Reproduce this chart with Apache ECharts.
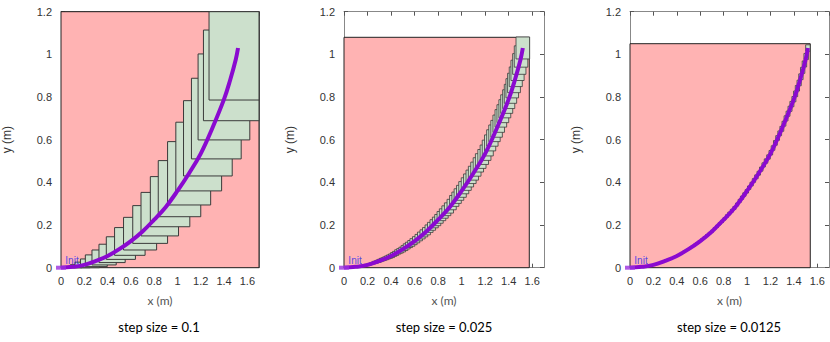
<!DOCTYPE html>
<html><head><meta charset="utf-8">
<script src="https://cdn.jsdelivr.net/npm/echarts@6/dist/echarts.min.js"></script>
<style>html,body{margin:0;padding:0;background:#fff}#c{width:830px;height:342px}</style>
</head><body><div id="c"></div>
<script>
// ---- data ----
const panelTitles = ['step size = 0.1', 'step size = 0.025', 'step size = 0.0125'];
const xName = 'x (m)', yName = 'y (m)';
const startLabel = 'Init';
const xMax = 1.7, yMax = 1.2, tickStep = 0.2;

// trajectory
const curveX = [0, 0.1, 0.2, 0.3, 0.4, 0.5, 0.6, 0.7, 0.8, 0.9, 1.0, 1.1, 1.2, 1.3, 1.4, 1.45, 1.5, 1.52];
const curveY = [0, 0.004, 0.013, 0.032, 0.055, 0.087, 0.125, 0.17, 0.225, 0.285, 0.36, 0.443, 0.535, 0.655, 0.79, 0.875, 0.975, 1.03];

// pink bounding box (upper-right corner) per panel
const hullX = [1.75, 1.575, 1.54];
const hullY = [1.3, 1.08, 1.05];

// panel 1 boxes (step 0.1): edges
const p1x0 = [0.04,0.08,0.12,0.167,0.209,0.266,0.326,0.389,0.46,0.537,0.616,0.687,0.767,0.835,0.915,0.986,1.052,1.12,1.177,1.223,1.271];
const p1x1 = [0.12,0.18,0.25,0.33,0.397,0.474,0.551,0.639,0.722,0.821,0.915,1.009,1.106,1.2,1.285,1.379,1.47,1.547,1.621,1.70,1.77];
const p1y0 = [-0.003,-0.004,-0.003,0.0,0.005,0.013,0.024,0.039,0.058,0.083,0.114,0.149,0.192,0.239,0.294,0.36,0.43,0.51,0.599,0.689,0.786];
const p1y1 = [0.006,0.014,0.026,0.041,0.060,0.083,0.110,0.145,0.188,0.236,0.291,0.353,0.427,0.502,0.591,0.682,0.783,0.888,1.002,1.114,1.27];

// box centres for the finer steps
const fineX = [0,0.02,0.04,0.06,0.08,0.093,0.105,0.118,0.13,0.144,0.158,0.171,0.185,0.201,0.218,0.234,0.25,0.263,0.276,0.29,0.303,
 0.32,0.336,0.353,0.37,0.387,0.404,0.422,0.439,0.458,0.476,0.495,0.514,0.533,0.552,0.572,0.591,0.613,0.635,0.657,0.679,
 0.701,0.723,0.744,0.766,0.787,0.807,0.828,0.848,0.870,0.892,0.915,0.937,0.957,0.977,0.998,1.018,1.039,1.059,1.080,1.100,
 1.121,1.142,1.162,1.183,1.203,1.222,1.242,1.261,1.279,1.297,1.315,1.333,1.35,1.367,1.383,1.40,1.415,1.43,1.445,1.46,
 1.475,1.49,1.505,1.52];
const fineY = [0,0.001,0.002,0.002,0.003,0.004,0.004,0.006,0.007,0.008,0.009,0.010,0.012,0.013,0.016,0.019,0.022,0.025,0.027,0.030,0.033,
 0.037,0.040,0.044,0.048,0.052,0.056,0.062,0.067,0.074,0.079,0.085,0.092,0.100,0.107,0.114,0.122,0.131,0.141,0.151,0.161,
 0.171,0.183,0.194,0.206,0.217,0.229,0.242,0.254,0.267,0.280,0.296,0.313,0.328,0.343,0.358,0.375,0.392,0.409,0.426,0.443,
 0.462,0.482,0.500,0.519,0.539,0.561,0.585,0.608,0.630,0.651,0.675,0.700,0.722,0.745,0.767,0.790,0.815,0.841,0.866,0.895,
 0.925,0.955,0.99,1.03];
// panel 2 box sizes (step 0.025)
const p2w = [0.015,0.016,0.017,0.018,0.019,0.020,0.021,0.022,0.023,0.025,0.027,0.028,0.030,0.032,0.034,0.035,0.037,0.039,0.040,0.042,0.044,
 0.045,0.046,0.047,0.048,0.049,0.050,0.051,0.052,0.054,0.055,0.057,0.058,0.059,0.060,0.060,0.061,0.062,0.063,0.065,0.066,
 0.067,0.068,0.069,0.070,0.071,0.072,0.074,0.075,0.076,0.077,0.078,0.079,0.080,0.082,0.083,0.085,0.085,0.085,0.086,0.086,
 0.087,0.088,0.090,0.091,0.092,0.094,0.095,0.097,0.097,0.098,0.098,0.099,0.100,0.101,0.102,0.103,0.105,0.107,0.109,0.111,
 0.112,0.113,0.115,0.116];
const p2h = [0.003,0.003,0.003,0.004,0.004,0.004,0.004,0.005,0.005,0.005,0.006,0.006,0.007,0.007,0.008,0.008,0.009,0.010,0.010,0.011,0.012,
 0.013,0.013,0.014,0.015,0.016,0.017,0.018,0.019,0.020,0.021,0.022,0.023,0.024,0.025,0.027,0.028,0.029,0.030,0.032,0.033,
 0.034,0.035,0.037,0.038,0.040,0.041,0.043,0.044,0.046,0.048,0.049,0.051,0.053,0.054,0.056,0.057,0.059,0.061,0.063,0.065,
 0.066,0.067,0.069,0.070,0.072,0.074,0.075,0.077,0.078,0.079,0.081,0.082,0.084,0.085,0.087,0.088,0.089,0.090,0.091,0.092,
 0.095,0.097,0.100,0.103];
// panel 3 box sizes (step 0.0125)
const p3w = [0.005,0.005,0.006,0.006,0.006,0.007,0.007,0.007,0.008,0.008,0.009,0.009,0.010,0.011,0.011,0.012,0.012,0.013,0.013,0.014,0.015,
 0.015,0.015,0.016,0.016,0.016,0.017,0.017,0.017,0.018,0.018,0.019,0.019,0.020,0.020,0.020,0.020,0.021,0.021,0.022,0.022,
 0.022,0.023,0.023,0.023,0.024,0.024,0.025,0.025,0.025,0.026,0.026,0.026,0.027,0.027,0.028,0.028,0.028,0.028,0.029,0.029,
 0.029,0.029,0.030,0.030,0.031,0.031,0.032,0.032,0.032,0.033,0.033,0.033,0.033,0.034,0.034,0.034,0.035,0.036,0.036,0.037,
 0.037,0.038,0.038,0.039];
const p3h = [0.001,0.001,0.001,0.001,0.001,0.001,0.001,0.001,0.001,0.002,0.002,0.002,0.002,0.002,0.002,0.002,0.003,0.003,0.003,0.003,0.003,
 0.004,0.004,0.004,0.004,0.005,0.005,0.005,0.005,0.006,0.006,0.006,0.007,0.007,0.007,0.008,0.008,0.008,0.009,0.009,0.009,
 0.010,0.010,0.011,0.011,0.011,0.012,0.012,0.013,0.013,0.014,0.014,0.015,0.015,0.016,0.016,0.016,0.017,0.017,0.018,0.018,
 0.019,0.019,0.020,0.020,0.021,0.021,0.022,0.022,0.022,0.023,0.023,0.024,0.024,0.024,0.025,0.025,0.026,0.026,0.026,0.027,
 0.028,0.028,0.029,0.030];

// ---- build ----
const boxes = [[], [], []];
for (let i = 0; i < p1x0.length; i++) boxes[0].push([p1x0[i], p1x1[i], p1y0[i], p1y1[i]]);
for (let i = 0; i < fineX.length; i++) {
  boxes[1].push([fineX[i] - p2w[i] / 2, fineX[i] + p2w[i] / 2, fineY[i] - p2h[i] / 2, fineY[i] + p2h[i] / 2]);
  boxes[2].push([fineX[i] - p3w[i] / 2, fineX[i] + p3w[i] / 2, fineY[i] - p3h[i] / 2, fineY[i] + p3h[i] / 2]);
}
const curve = curveX.map((x, i) => [x, curveY[i]]);

const grids = [
  { left: 59.5, top: 11.7, width: 199.5, height: 256 },
  { left: 344, top: 11.7, width: 200, height: 256 },
  { left: 630, top: 11.7, width: 199, height: 256 }
];
const centers = [159, 444, 729];
const tickFont = { fontFamily: 'Liberation Sans', fontSize: 11, color: '#333' };

function rectItem(fill, stroke, lw) {
  return function (params, api) {
    const p0 = api.coord([api.value(0), api.value(3)]);
    const p1 = api.coord([api.value(1), api.value(2)]);
    const shape = echarts.graphic.clipRectByRect(
      { x: p0[0], y: p0[1], width: p1[0] - p0[0], height: p1[1] - p0[1] },
      { x: params.coordSys.x, y: params.coordSys.y, width: params.coordSys.width, height: params.coordSys.height });
    if (!shape) return null;
    return { type: 'rect', shape: shape, style: { fill: fill, stroke: stroke, lineWidth: lw } };
  };
}

const xAxis = [], yAxis = [], series = [];
grids.forEach((g, k) => {
  const base = { gridIndex: k, type: 'value', min: 0, interval: tickStep, splitLine: { show: false },
    axisLine: { show: true, onZero: false, lineStyle: { color: '#888', width: 1 } },
    axisTick: { show: true, inside: true, length: 4, lineStyle: { color: '#555' } } };
  xAxis.push(Object.assign({}, base, { max: xMax, position: 'bottom', name: xName, nameLocation: 'middle', nameGap: 27,
    nameTextStyle: { fontFamily: 'Lato', fontSize: 12, color: '#555' },
    axisLabel: Object.assign({ margin: 8, showMaxLabel: false }, tickFont) }));
  xAxis.push(Object.assign({}, base, { max: xMax, position: 'top', axisLabel: { show: false } }));
  yAxis.push(Object.assign({}, base, { max: yMax, position: 'left', name: yName, nameLocation: 'middle', nameGap: 48,
    nameRotate: 90, nameTextStyle: { fontFamily: 'Liberation Sans', fontSize: 12, color: '#333' },
    axisLabel: Object.assign({ margin: 9 }, tickFont) }));
  yAxis.push(Object.assign({}, base, { max: yMax, position: 'right', axisLabel: { show: false } }));

  const ax = { xAxisIndex: 2 * k, yAxisIndex: 2 * k };
  series.push(Object.assign({ type: 'custom', renderItem: rectItem('#ffb3b3', '#222', 1), z: 1,
    data: [[0, hullX[k], 0, hullY[k]]], silent: true }, ax));
  series.push(Object.assign({ type: 'custom', renderItem: rectItem('#cce0cc', '#3a3a3a', k === 0 ? 1 : 0.8), z: 2,
    data: boxes[k], silent: true }, ax));
  series.push(Object.assign({ type: 'scatter', z: 3, symbol: 'circle', symbolSize: 2,
    itemStyle: { color: 'rgba(0,0,0,0)' },
    data: [[0.02, 0.035]], label: { show: true, position: 'right', distance: 1, formatter: startLabel,
      fontSize: 10, color: '#2a2aee', fontFamily: 'Liberation Sans' }, silent: true }, ax));
  series.push(Object.assign({ type: 'line', z: 4, data: curve, smooth: 0.4, showSymbol: false,
    lineStyle: { color: '#8a0ad0', width: 4 }, silent: true }, ax));
  series.push(Object.assign({ type: 'scatter', z: 4, data: [[0, 0]], symbol: 'rect', symbolSize: [10, 4],
    itemStyle: { color: '#9a30dd' }, silent: true }, ax));
});

const chart = echarts.init(document.getElementById('c'), null, { renderer: 'svg' });
chart.setOption({
  animation: false,
  grid: grids,
  xAxis: xAxis,
  yAxis: yAxis,
  series: series,
  graphic: panelTitles.map((t, k) => ({ type: 'text', x: centers[k], y: 327,
    style: { text: t, textAlign: 'center', textVerticalAlign: 'middle', font: '13px Lato', fill: '#000' } }))
});
</script></body></html>
